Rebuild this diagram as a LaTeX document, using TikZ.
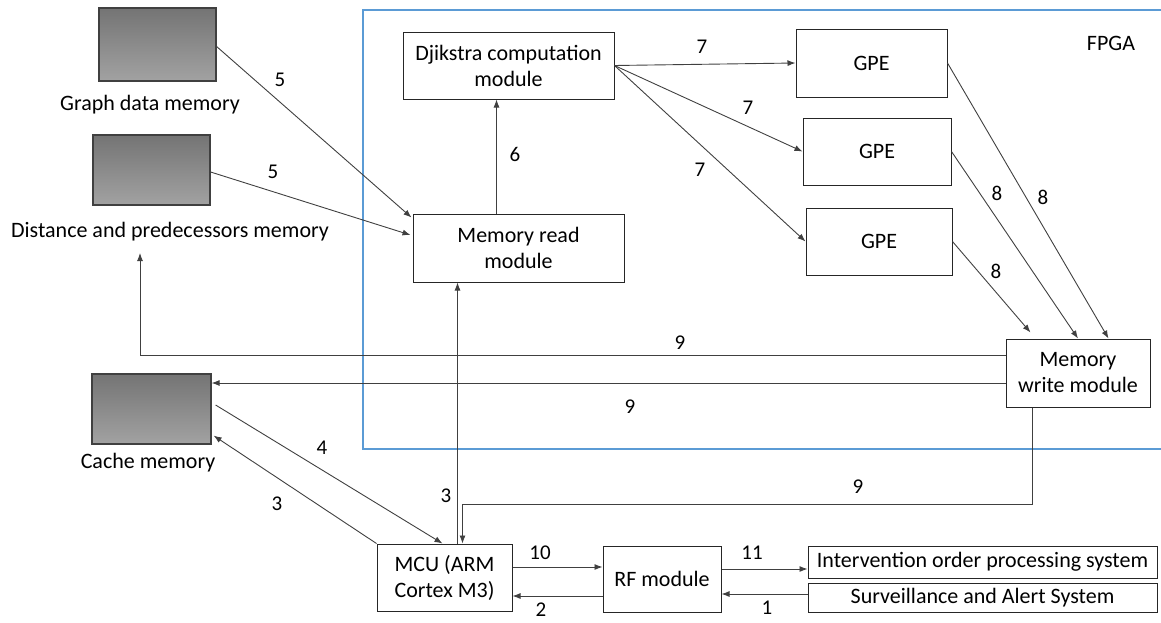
\documentclass[tikz,border=0pt]{standalone}
\usepackage{fontspec}
\setmainfont{Carlito}
\usetikzlibrary{arrows.meta,calc}
\definecolor{fpgablue}{HTML}{5B9BD5}
\definecolor{memtop}{HTML}{747474}
\definecolor{membot}{HTML}{A2A2A2}
\definecolor{lineclr}{HTML}{404040}
\tikzset{
  blk/.style={draw=black!85, line width=1pt, fill=white, inner sep=0pt, align=center,
              font=\fontsize{22}{26}\selectfont},
  memblk/.style={draw=black!75, line width=1.2pt, top color=memtop, bottom color=membot,
                 inner sep=0pt, minimum width=117pt, minimum height=71pt},
  txt/.style={inner sep=0pt, font=\fontsize{22}{26}\selectfont},
  num/.style={inner sep=0pt, font=\fontsize{21}{24}\selectfont},
  arr/.style={draw=lineclr, line width=0.9pt, -{Latex[length=8pt,width=6pt]}},
  ln/.style={draw=lineclr, line width=0.9pt},
}
\begin{document}
\begin{tikzpicture}[x=1pt,y=-1pt]
\useasboundingbox (0,0) rectangle (1161,622);

% FPGA region (open to the right)
\draw[fpgablue, line width=1.6pt] (1161,10) -- (363,10) -- (363,449) -- (1161,449);
\node[txt] (fpga) at (1111,43) {FPGA};

% memories
\node[memblk, minimum width=117pt, minimum height=73pt] (gdm) at (157.5,44.5) {};
\node[memblk, minimum width=117pt, minimum height=70pt] (dpm) at (151.5,170) {};
\node[memblk, minimum width=119pt, minimum height=70pt] (cache) at (151.5,409) {};
\node[txt] (gdml) at (150,105) {Graph data memory};
\node[txt] (dpml) at (170,232) {Distance and predecessors memory};
\node[txt] (cachel) at (148,463) {Cache memory};

% FPGA modules
\node[blk, minimum width=211pt, minimum height=67pt] (djik) at (508.5,65.5) {Djikstra computation\\module};
\node[blk, minimum width=211pt, minimum height=68pt] (mread) at (518.5,248) {Memory read\\module};
\node[blk, minimum width=151pt, minimum height=68pt] (gpe1) at (871.5,63) {GPE};
\node[blk, minimum width=148pt, minimum height=67pt] (gpe2) at (877,151.5) {GPE};
\node[blk, minimum width=146pt, minimum height=67pt] (gpe3) at (879,241.5) {GPE};
\node[blk, minimum width=144pt, minimum height=68pt] (mwrite) at (1078,373) {Memory\\write module};

% external units
\node[blk, minimum width=135pt, minimum height=67pt] (mcu) at (444.5,577.5) {MCU (ARM\\Cortex M3)};
\node[blk, minimum width=118pt, minimum height=66pt] (rf) at (662,579) {RF module};
\node[blk, minimum width=349pt, minimum height=32pt] (interv) at (982.5,562) {Intervention order processing system};
\node[blk, minimum width=349pt, minimum height=29pt] (surv) at (982.5,597.5) {Surveillance and Alert System};

% 5: memories to read module
\draw[arr] ($(gdm.east)+(0,2)$) -- ($(mread.north west)+(-1,4)$);
\draw[arr] ($(dpm.east)+(0,2)$) -- ($(mread.west)+(-2,-13)$);
\node[num] (l5a) at (280,80) {5};
\node[num] (l5b) at (273,172) {5};

% 6: read module to Djikstra module
\draw[arr] ($(mread.north west)+(84,0)$) -- ($(djik.south west)+(94,0)$);
\node[num] (l6) at (515,154) {6};

% 7: Djikstra module to GPEs
\draw[arr] (djik.east) -- (gpe1.west);
\draw[arr] (djik.east) -- (gpe2.west);
\draw[arr] (djik.east) -- (gpe3.west);
\node[num] (l7a) at (702,47) {7};
\node[num] (l7b) at (748,108) {7};
\node[num] (l7c) at (700,170) {7};

% 8: GPEs to write module
\draw[arr] (gpe1.east) -- ($(mwrite.north east)+(-42,0)$);
\draw[arr] (gpe2.east) -- (mwrite.north);
\draw[arr] (gpe3.east) -- ($(mwrite.north west)+(25,-6)$);
\node[num] (l8a) at (1043,197) {8};
\node[num] (l8b) at (997,193) {8};
\node[num] (l8c) at (996,271) {8};

% 9: write module back to memories and MCU
\coordinate (dpmin) at (140,253);
\draw[arr] ($(mwrite.west)+(0,-18)$) -| (dpmin);
\coordinate (w9b) at ($(mwrite.west)+(0,10)$);
\draw[arr] (w9b) -- (w9b -| cache.east);
\draw[arr] ($(mwrite.south west)+(27,0)$) -- ++(0,97) -| ($(mcu.north west)+(86,0)$);
\node[num] (l9a) at (680,343) {9};
\node[num] (l9b) at (630,407) {9};
\node[num] (l9c) at (858,487) {9};

% 3 and 4: MCU with read module and cache
\coordinate (c3) at ($(mcu.north west)+(81,0)$);
\draw[arr] (c3) -- (c3 |- mread.south);
\node[num] (l3a) at (446,496) {3};
\draw[arr] ($(cache.east)+(4,-4)$) -- ($(mcu.north west)+(66,0)$);
\node[num] (l4) at (322,448) {4};
\draw[arr] (mcu.north west) -- ($(cache.south east)+(2,-9)$);
\node[num] (l3b) at (277,504) {3};

% 10, 2: MCU and RF module
\coordinate (c10) at ($(mcu.east)+(0,-10.5)$);
\draw[arr] (c10) -- (c10 -| rf.west);
\node[num] (l10) at (540,553) {10};
\coordinate (c2) at ($(rf.west)+(0,17)$);
\draw[arr] (c2) -- (c2 -| mcu.east);
\node[num] (l2) at (541,610) {2};

% 11, 1: RF module and outside systems
\coordinate (c11) at ($(rf.east)+(0,-10)$);
\draw[arr] (c11) -- (c11 -| interv.west);
\node[num] (l11) at (752,553) {11};
\coordinate (c1) at ($(surv.west)+(0,-3.5)$);
\draw[arr] (c1) -- (c1 -| rf.east);
\node[num] (l1) at (767,608) {1};
\end{tikzpicture}
\end{document}
